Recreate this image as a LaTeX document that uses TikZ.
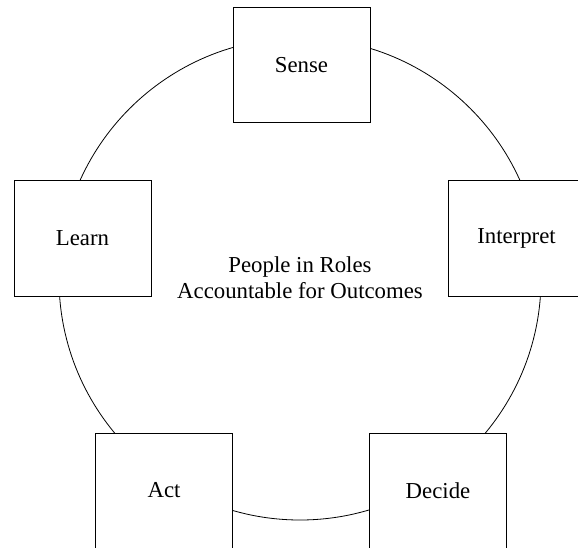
\documentclass[tikz,border=0pt]{standalone}
\usepackage{fontspec}
\setmainfont{Liberation Serif}
\usetikzlibrary{shapes}

\begin{document}
\begin{tikzpicture}[x=1pt, y=-1pt,
    stage/.style={draw, fill=white, line width=1pt, inner sep=0pt,
      minimum width=137pt, minimum height=115pt,
      font=\fontsize{22.8}{26}\selectfont},
    ring/.style={draw, circle, line width=0.8pt, minimum size=482pt, inner sep=0pt}]
%%% page frame %%%
  \useasboundingbox (0,0) rectangle (578,548);
  \clip (0,0) rectangle (578,548);

  %% the loop
  \node[ring] (loop) at (300,279) {};
  \node[align=center, font=\fontsize{22.8}{26}\selectfont] (hub) at (300,278)
    { People in Roles \\ Accountable for Outcomes };

  %% the five stages
  \node[stage] (sense)     at (301.5,65.5)  { Sense };
  \node[stage] (interpret) at (516.5,238.5) { Interpret };
  \node[stage] (decide)    at (438,490.5)   { Decide };
  \node[stage] (act)       at (164,490.5)   { Act };
  \node[stage] (learn)     at (82.5,238.5)  { Learn };

\end{tikzpicture}
\end{document}
